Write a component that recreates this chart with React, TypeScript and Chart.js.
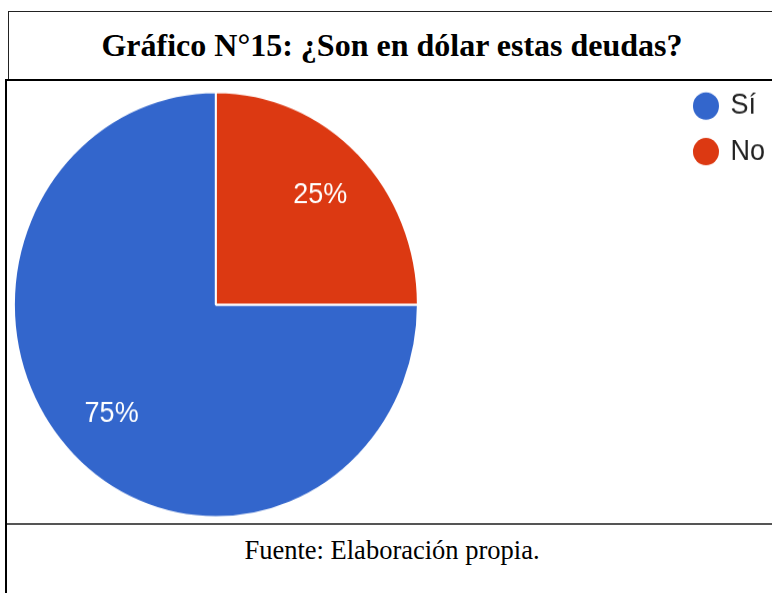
import React, { useEffect, useRef } from "react";
import { Chart, registerables } from "chart.js";

Chart.register(...registerables);

const categories = ["Sí", "No"];
const values = [75, 25];
const colors = ["#3366CC", "#DC3912"];
const titleText = "Gráfico N°15: ¿Son en dólar estas deudas?";
const sourceText = "Fuente: Elaboración propia.";

const SANS = "'Liberation Sans', Arial, sans-serif";
const SERIF = "'Liberation Serif', 'Times New Roman', serif";

const pieLabels = {
  id: "pieLabels",
  afterDatasetsDraw(chart: any) {
    const ctx = chart.ctx;
    const meta = chart.getDatasetMeta(0);
    const data = chart.data.datasets[0].data as number[];
    const total = data.reduce((a, b) => a + b, 0);
    ctx.save();
    ctx.fillStyle = "#ffffff";
    ctx.font = `27px ${SANS}`;
    ctx.textAlign = "center";
    ctx.textBaseline = "middle";
    meta.data.forEach((arc: any, i: number) => {
      const { x, y, startAngle, endAngle, outerRadius } = arc.getProps(
        ["x", "y", "startAngle", "endAngle", "outerRadius"],
        true
      );
      const mid = (startAngle + endAngle) / 2;
      const r = outerRadius * 0.73;
      ctx.fillText(
        Math.round((data[i] / total) * 100) + "%",
        x + Math.cos(mid) * r,
        y + Math.sin(mid) * r
      );
    });
    ctx.restore();
  },
};

function PieChart() {
  const ref = useRef<HTMLCanvasElement | null>(null);
  useEffect(() => {
    if (!ref.current) return;
    const chart = new Chart(ref.current, {
      type: "pie",
      data: {
        labels: categories,
        datasets: [
          {
            data: values,
            backgroundColor: colors,
            borderColor: "#ffffff",
            borderWidth: 2,
            radius: 202,
          } as any,
        ],
      },
      options: {
        responsive: false,
        animation: false,
        rotation: 90,
        layout: { padding: { left: 0, top: 5, right: 0, bottom: 0 } },
        plugins: {
          tooltip: { enabled: false },
          legend: {
            position: "right",
            align: "start",
            labels: {
              usePointStyle: true,
              pointStyle: "circle",
              boxWidth: 22,
              boxHeight: 18.4,
              padding: 6.2,
              color: "#222222",
              font: { family: SANS, size: 27, lineHeight: 1.378 },
              generateLabels: (c: any) =>
                (c.data.labels as string[]).map((l, i) => ({
                  text: [l],
                  fillStyle: colors[i],
                  strokeStyle: colors[i],
                  lineWidth: 0,
                  pointStyle: "circle",
                  hidden: false,
                  index: i,
                  fontColor: "#222222",
                })),
            },
          },
        },
      } as any,
      plugins: [pieLabels],
    });
    return () => chart.destroy();
  }, []);
  return (
    <canvas
      ref={ref}
      width={1032}
      height={422}
      style={{
        position: "absolute",
        left: -257,
        top: 80,
        width: 1032,
        height: 422,
        transform: "scaleY(1.052)",
        transformOrigin: "0 0",
        display: "block",
      }}
    />
  );
}

export default function App() {
  const line = (s: React.CSSProperties) => (
    <div style={{ position: "absolute", ...s }} />
  );
  return (
    <div
      style={{
        position: "fixed",
        left: 0,
        top: 0,
        width: 772,
        height: 593,
        overflow: "hidden",
        background: "#ffffff",
      }}
    >
      {line({ left: 8, top: 11, width: 764, height: 1, background: "#222" })}
      {line({ left: 8, top: 11, width: 1, height: 68, background: "#222" })}
      {line({ left: 5, top: 79, width: 767, height: 2, background: "#000" })}
      {line({ left: 5, top: 79, width: 2, height: 514, background: "#000" })}
      {line({ left: 7, top: 523, width: 765, height: 2, background: "#555" })}
      <div
        style={{
          position: "absolute",
          left: 8,
          top: 29,
          width: 768,
          height: 32,
          lineHeight: "32px",
          textAlign: "center",
          fontFamily: SERIF,
          fontWeight: "bold",
          fontSize: 32,
          color: "#000",
          whiteSpace: "nowrap",
        }}
      >
        {titleText}
      </div>
      <PieChart />
      <div
        style={{
          position: "absolute",
          left: 8,
          top: 537,
          width: 768,
          height: 27,
          lineHeight: "27px",
          textAlign: "center",
          fontFamily: SERIF,
          fontSize: 26.5,
          color: "#000",
          whiteSpace: "nowrap",
        }}
      >
        {sourceText}
      </div>
    </div>
  );
}
